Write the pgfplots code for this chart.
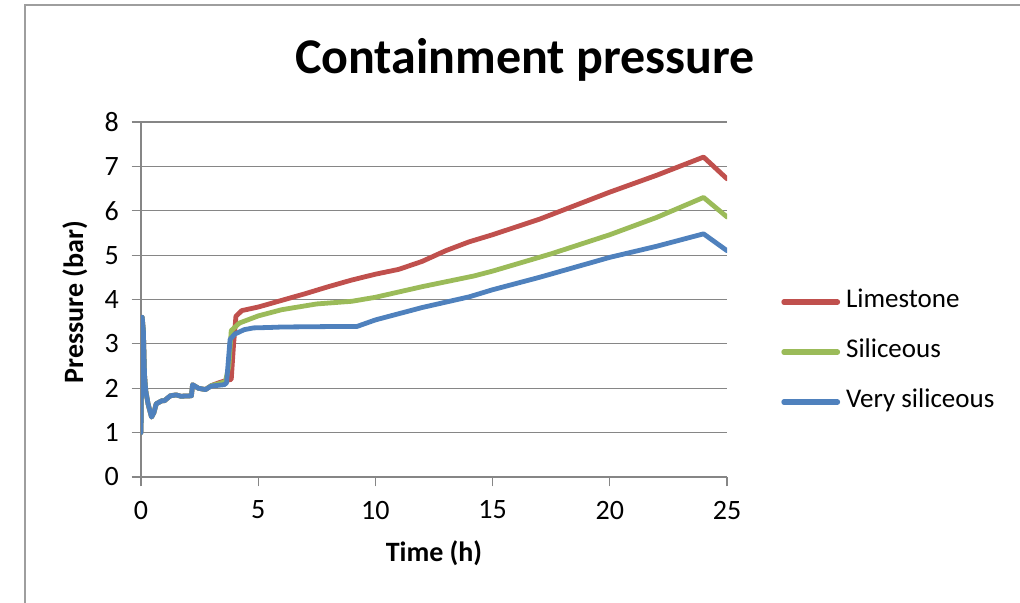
\documentclass[border=0pt]{standalone}
\usepackage{pgfplots}
\pgfplotsset{compat=1.18}
\usepackage{fontspec}
\setmainfont{Carlito}
\definecolor{cred}{RGB}{192,80,77}
\definecolor{cgreen}{RGB}{155,187,89}
\definecolor{cblue}{RGB}{79,129,189}
\definecolor{gridgray}{RGB}{134,134,134}
\begin{document}
\begin{tikzpicture}
\path[use as bounding box] (0,0) rectangle (510pt,301.5pt);
\draw[gridgray!80, line width=0.8pt] (12.5pt,0) -- (12.5pt,299pt) -- (510pt,299pt);
\node[font=\fontsize{25}{30}\selectfont\bfseries] at (262.5pt,271.5pt) {Containment pressure};
\begin{axis}[
  at={(70.5pt,63pt)}, anchor=origin,
  scale only axis, width=293pt, height=177.5pt,
  xmin=0, xmax=25, ymin=0, ymax=8,
  xtick={0,5,...,25}, ytick={0,1,...,8},
  axis x line=bottom, axis y line=left,
  axis line style={-, gridgray, line width=0.6pt},
  tick style={gridgray, line width=0.6pt},
  tick align=outside, major tick length=4.75pt,
  ymajorgrids, grid style={gridgray, line width=0.6pt},
  /pgf/number format/assume math mode=true,
  tick label style={font=\fontsize{14}{16}\selectfont},
  xticklabel style={yshift=-3.7pt},
  yticklabel style={xshift=-2.8pt},
  xlabel={\textbf{Time (h)}}, ylabel={\textbf{Pressure (bar)}},
  xlabel style={font=\fontsize{14}{16}\selectfont, at={(0.5,-0.214)}, anchor=center},
  ylabel style={font=\fontsize{14}{16}\selectfont, at={(-0.113,0.493)}, anchor=center},
  every axis plot/.append style={line width=2.4pt, line join=round, line cap=round},
  legend style={at={(1.092,0.352)}, anchor=west, draw=none, fill=none,
    inner sep=0pt, font=\fontsize{13.5}{16}\selectfont,
    nodes={inner sep=0pt, text height=7.5pt, text depth=2pt},
    row sep=15.5pt,
    /tikz/every odd column/.append style={column sep=3pt}},
  legend cell align=left,
  legend image code/.code={\draw[#1, line width=2.6pt, line cap=round] (0.6pt,0pt) -- (27.4pt,0pt);},
]
\addplot[cred] coordinates {
(0,1.0) (0.05,3.6) (0.1,3.3) (0.15,2.3) (0.2,1.95) (0.3,1.65) (0.45,1.35) (0.55,1.45) (0.65,1.65) (0.9,1.72) (1.0,1.72) (1.25,1.83) (1.5,1.85) (1.7,1.82) (2.15,1.83) (2.2,2.08) (2.45,2.0) (2.75,1.97) (3.0,2.06) (3.3,2.12) (3.6,2.17) (3.85,2.2) (3.95,3.0) (4.05,3.62) (4.3,3.75) (5,3.83) (6,3.98) (7,4.13) (8,4.29) (9,4.44) (10,4.57) (11,4.68) (12,4.86) (13,5.1) (14,5.3) (15,5.46) (17,5.81) (20,6.42) (22,6.8) (24,7.21) (25,6.72)
};
\addlegendentry{Limestone}
\addplot[cgreen] coordinates {
(0,1.0) (0.05,3.6) (0.1,3.3) (0.15,2.3) (0.2,1.95) (0.3,1.65) (0.45,1.35) (0.55,1.45) (0.65,1.65) (0.9,1.72) (1.0,1.72) (1.25,1.83) (1.5,1.85) (1.7,1.82) (2.15,1.83) (2.2,2.08) (2.45,2.0) (2.75,1.97) (3.0,2.06) (3.3,2.1) (3.6,2.15) (3.75,2.5) (3.85,3.3) (4.2,3.47) (5,3.63) (6,3.77) (7.5,3.9) (9,3.96) (10,4.05) (12,4.29) (14.2,4.53) (15,4.64) (17.5,5.03) (20,5.46) (22,5.85) (24,6.3) (25,5.86)
};
\addlegendentry{Siliceous}
\addplot[cblue] coordinates {
(0,1.0) (0.05,3.6) (0.1,3.3) (0.15,2.3) (0.2,1.95) (0.3,1.65) (0.45,1.35) (0.55,1.45) (0.65,1.65) (0.9,1.72) (1.0,1.72) (1.25,1.83) (1.5,1.85) (1.7,1.82) (2.15,1.83) (2.2,2.08) (2.45,2.0) (2.75,1.97) (3.0,2.05) (3.55,2.08) (3.65,2.12) (3.8,3.1) (4.0,3.22) (4.4,3.32) (4.8,3.36) (5.5,3.37) (6,3.38) (8,3.39) (9.2,3.39) (10,3.54) (12,3.82) (14,4.06) (15,4.22) (17,4.5) (20,4.95) (22,5.2) (24,5.48) (25,5.1)
};
\addlegendentry{Very siliceous}
\end{axis}
\end{tikzpicture}
\end{document}
